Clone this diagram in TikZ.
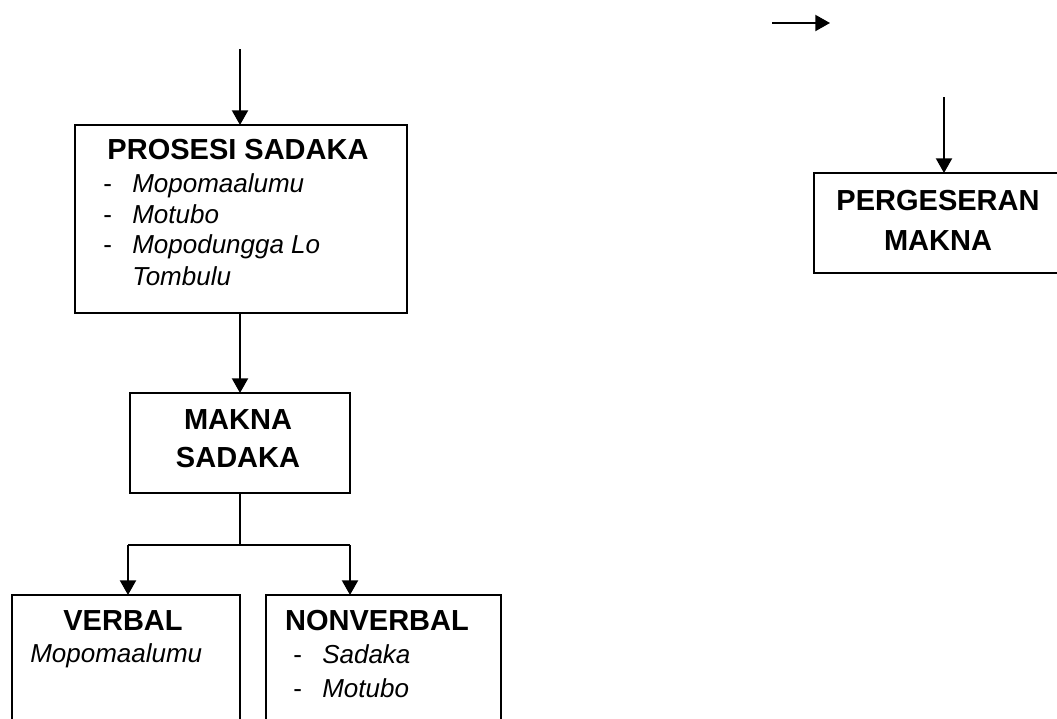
\documentclass[tikz,border=0pt]{standalone}
\usepackage{fontspec}
\setmainfont{Liberation Sans}
\usetikzlibrary{arrows.meta}
\begin{document}
\begin{tikzpicture}[x=0.75pt,y=-0.75pt,
  boxst/.style={draw, line width=1.4pt, inner sep=0pt, outer sep=0pt},
  ttl/.style={inner sep=0pt, anchor=base, font=\fontsize{21.75pt}{26pt}\selectfont\bfseries},
  itm/.style={inner sep=0pt, anchor=base west, font=\fontsize{19.5pt}{23pt}\selectfont\itshape},
  dsh/.style={inner sep=0pt, anchor=base west, font=\fontsize{19.5pt}{23pt}\selectfont},
  arr/.style={line width=1.5pt, -{Triangle[length=11pt,width=12pt]}},
  ln/.style={line width=1.5pt}]
\useasboundingbox (0,0) rectangle (1057,718);
\clip (0,0) rectangle (1057,718);
\fill[white] (0,0) rectangle (1057,718);

% boxes
\node[boxst, minimum width=249pt, minimum height=141pt] (pros) at (241,219) {};
\node[boxst, minimum width=165pt, minimum height=75pt] (makna) at (240,443) {};
\node[boxst, minimum width=171pt, minimum height=123.75pt] (verbal) at (126,677.5) {};
\node[boxst, minimum width=176.25pt, minimum height=123.75pt] (nonverbal) at (383.5,677.5) {};
\node[boxst, minimum width=214.5pt, minimum height=75pt] (perg) at (957,223) {};

% texts
\node[ttl] (t1) at (238,159) {PROSESI SADAKA};
\node[dsh] (d1) at (103,192) {-};
\node[itm] (i1) at (132,192) {Mopomaalumu};
\node[dsh] (d2) at (103,223) {-};
\node[itm] (i2) at (132,223) {Motubo};
\node[dsh] (d3) at (103,253) {-};
\node[itm] (i3) at (132,253) {Mopodungga Lo};
\node[itm] (i4) at (132,285) {Tombulu};

\node[ttl] (t2) at (238,429) {MAKNA};
\node[ttl] (t3) at (238,467) {SADAKA};

\node[ttl] (t4) at (938,210) {PERGESERAN};
\node[ttl] (t5) at (938,250) {MAKNA};

\node[ttl] (t6) at (123,630) {VERBAL};
\node[itm] (i5) at (30,662) {Mopomaalumu};

\node[ttl] (t7) at (377,630) {NONVERBAL};
\node[dsh] (d5) at (293,663) {-};
\node[itm] (i6) at (322,663) {Sadaka};
\node[dsh] (d6) at (293,697) {-};
\node[itm] (i7) at (322,697) {Motubo};

% connectors
\coordinate (s1) at (240,49);
\draw[arr] (s1) -- (s1 |- pros.north);
\draw[arr] (makna.north |- pros.south) -- (makna.north);
\coordinate (br) at (240,545);
\draw[ln] (makna.south) -- (br);
\coordinate (bl) at (128,545);
\coordinate (bt) at (350,545);
\draw[ln] (bl) -- (bt);
\draw[arr] (bl) -- (bl |- verbal.north);
\draw[arr] (bt) -- (bt |- nonverbal.north);

\coordinate (ra1) at (772,23);
\coordinate (ra2) at (830,23);
\draw[arr] (ra1) -- (ra2);

\coordinate (s2) at (944,97);
\draw[arr] (s2) -- (s2 |- perg.north);
\end{tikzpicture}
\end{document}
